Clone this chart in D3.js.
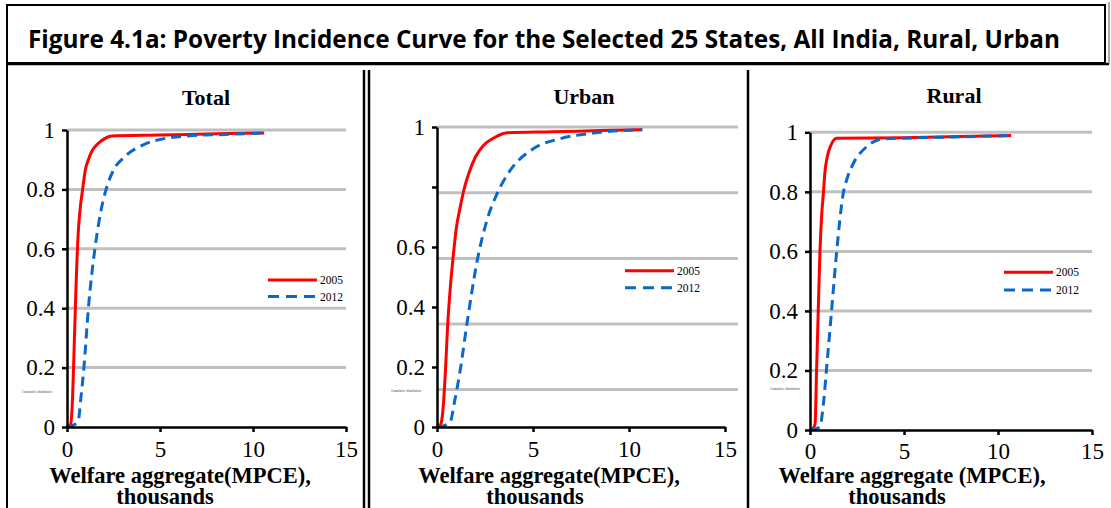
<!DOCTYPE html>
<html>
<head>
<meta charset="utf-8">
<script src="https://cdn.jsdelivr.net/npm/d3@7"></script>
<style>
  body { margin: 0; background: #fff; }
  svg { display: block; }
</style>
</head>
<body>
<script>
// values (x = MPCE in thousands, y = cumulative share)
var years = ["2005", "2012"];
var xTicks = [0, 5, 10, 15];
var yTicks = [0, 0.2, 0.4, 0.6, 0.8, 1];
var yLabelsUrban = [0, 0.2, 0.4, 0.6, 1];
var gridStd = [0.2, 0.4, 0.6, 0.8, 1];
var gridUrban = [0.125, 0.343, 0.562, 0.781, 1];

var total2005 = [[0,0],[0.2,0.01],[0.3,0.1],[0.4,0.3],[0.5,0.5],[0.6,0.65],[0.7,0.73],[0.84,0.8],[1.0,0.87],[1.15,0.9],[1.35,0.93],[1.6,0.95],[2.0,0.97],[2.4,0.98],[5,0.983],[8,0.987],[10.6,0.99]];
var total2012 = [[0,0],[0.3,0.005],[0.6,0.02],[0.75,0.1],[0.91,0.2],[1.15,0.4],[1.5,0.6],[1.8,0.72],[2.1,0.8],[2.5,0.865],[3.1,0.91],[4.1,0.95],[5.3,0.972],[6.5,0.98],[8.5,0.985],[10.6,0.99]];
var urban2005 = [[0,0],[0.2,0.01],[0.3,0.05],[0.45,0.2],[0.55,0.333],[0.7,0.47],[0.83,0.56],[1.0,0.66],[1.21,0.733],[1.4,0.79],[1.65,0.844],[2.0,0.9],[2.43,0.939],[3.0,0.965],[3.65,0.981],[6,0.984],[8.5,0.988],[10.7,0.991]];
var urban2012 = [[0,0],[0.3,0.003],[0.69,0.017],[0.9,0.08],[1.21,0.19],[1.56,0.344],[2.08,0.55],[2.6,0.689],[3.13,0.778],[3.82,0.856],[5.03,0.928],[6.42,0.961],[8.16,0.98],[10.68,0.991]];
var rural2005 = [[0,0],[0.15,0.005],[0.27,0.02],[0.35,0.2],[0.44,0.403],[0.53,0.6],[0.62,0.72],[0.71,0.795],[0.8,0.87],[0.92,0.918],[1.1,0.955],[1.42,0.98],[5,0.982],[8,0.986],[10.7,0.989]];
var rural2012 = [[0,0],[0.3,0.004],[0.53,0.011],[0.7,0.08],[0.89,0.213],[1.15,0.403],[1.42,0.6],[1.77,0.795],[2.0,0.85],[2.31,0.896],[3.02,0.952],[3.9,0.978],[5.5,0.981],[8,0.985],[10.7,0.989]];

var W = 1111, H = 508;
var serif = "'Liberation Serif','Times New Roman',serif";

var svg = d3.select("body").append("svg")
    .attr("width", W)
    .attr("height", H);

// frame
svg.append("rect").attr("x", 7).attr("y", 5).attr("width", 1098).attr("height", 58)
    .attr("fill", "none").attr("stroke", "#000").attr("stroke-width", 2);
svg.append("line").attr("x1", 7).attr("x2", 1109).attr("y1", 64).attr("y2", 64)
    .attr("stroke", "#000").attr("stroke-width", 2.5);
svg.append("line").attr("x1", 7).attr("x2", 7).attr("y1", 5).attr("y2", H)
    .attr("stroke", "#000").attr("stroke-width", 2);
svg.append("line").attr("x1", 1109).attr("x2", 1109).attr("y1", 2).attr("y2", 64)
    .attr("stroke", "#555").attr("stroke-width", 1);
[364, 369, 748].forEach(function(x) {
    svg.append("line").attr("x1", x).attr("x2", x).attr("y1", 70).attr("y2", H)
        .attr("stroke", "#000").attr("stroke-width", 2.5);
});

svg.append("text")
    .attr("x", 28).attr("y", 48)
    .attr("textLength", 1032).attr("lengthAdjust", "spacingAndGlyphs")
    .style("font-family", "'Open Sans',Arial,sans-serif")
    .style("font-weight", "bold").style("font-size", "25px")
    .text("Figure 4.1a: Poverty Incidence Curve for the Selected 25 States, All India, Rural, Urban");

function drawPanel(p) {
    var x = d3.scaleLinear().domain([0, 15]).range([p.x0, p.x15]);
    var y = d3.scaleLinear().domain([0, 1]).range([p.y0, p.y1]);
    var g = svg.append("g");

    // grid
    g.selectAll("line.grid").data(p.grid).enter().append("line")
        .attr("class", "grid")
        .attr("x1", p.x0).attr("x2", p.gridEnd)
        .attr("y1", function(d) { return y(d); })
        .attr("y2", function(d) { return y(d); })
        .attr("stroke", "#c0c0c0").attr("stroke-width", 3);

    var line = d3.line()
        .x(function(d) { return x(d[0]); })
        .y(function(d) { return y(d[1]); })
        .curve(d3.curveMonotoneX);

    g.append("path").datum(p.s2005).attr("d", line)
        .attr("fill", "none").attr("stroke", "#ff0000").attr("stroke-width", 3);
    g.append("path").datum(p.s2012).attr("d", line)
        .attr("fill", "none").attr("stroke", "#0a68cc").attr("stroke-width", 3)
        .attr("stroke-dasharray", "10,6");

    var xAxis = d3.axisBottom(x).tickValues(xTicks).tickSize(5).tickSizeOuter(0).tickPadding(p.xPad);
    var yAxis = d3.axisLeft(y).tickValues(yTicks).tickSize(5).tickSizeOuter(0).tickPadding(7)
        .tickFormat(function(d) { return p.yLabels.indexOf(d) >= 0 ? d3.format("~g")(d) : ""; });

    var gx = g.append("g").attr("transform", "translate(0," + p.y0 + ")").call(xAxis);
    var gy = g.append("g").attr("transform", "translate(" + p.x0 + ",0)").call(yAxis);
    [gx, gy].forEach(function(a) {
        a.select(".domain").attr("stroke", "#000").attr("stroke-width", 2.5);
        a.selectAll(".tick line").attr("stroke", "#000").attr("stroke-width", 2.5);
        a.selectAll("text").attr("fill", "#000")
            .style("font-family", serif).style("font-size", "23px");
    });

    g.append("text").attr("x", p.titleX).attr("y", p.titleY)
        .attr("text-anchor", "middle")
        .style("font-family", serif).style("font-weight", "bold").style("font-size", "22px")
        .text(p.title);

    // axis title, two lines in one text
    var at = g.append("text")
        .attr("text-anchor", "middle")
        .style("font-family", serif).style("font-weight", "bold").style("font-size", "22.5px");
    at.append("tspan").attr("x", p.ax1).attr("y", 483).text(p.axisText);
    at.append("tspan").attr("x", p.ax2).attr("y", 504).text("thousands");

    // tiny y-axis caption
    g.append("text").attr("x", p.capX).attr("y", p.capY)
        .attr("textLength", 30).attr("lengthAdjust", "spacingAndGlyphs")
        .style("font-family", serif).style("font-size", "3px").attr("fill", "#444")
        .text("Cumulative distribution");

    // legend
    years.forEach(function(yr, i) {
        var ly = p.legY[i];
        g.append("line").attr("x1", p.legX).attr("x2", p.legX + 49)
            .attr("y1", ly).attr("y2", ly)
            .attr("stroke", i == 0 ? "#ff0000" : "#0a68cc").attr("stroke-width", 3)
            .attr("stroke-dasharray", i == 0 ? null : "11,7");
        g.append("text").attr("x", p.legX + 52).attr("y", ly).attr("dy", "0.35em")
            .style("font-family", serif).style("font-size", "11.5px")
            .text(yr);
    });
}

drawPanel({
    title: "Total", titleX: 206, titleY: 105,
    x0: 67, x15: 346, y0: 427, y1: 130, gridEnd: 346, grid: gridStd, yLabels: yTicks, xPad: 9,
    s2005: total2005, s2012: total2012,
    legX: 268, legY: [280, 296.5],
    axisText: "Welfare aggregate(MPCE),", ax1: 180, ax2: 165,
    capX: 22, capY: 393
});
drawPanel({
    title: "Urban", titleX: 584, titleY: 104,
    x0: 437, x15: 725, y0: 427, y1: 127, gridEnd: 738, grid: gridUrban, yLabels: yLabelsUrban, xPad: 9,
    s2005: urban2005, s2012: urban2012,
    legX: 625, legY: [270.7, 287.7],
    axisText: "Welfare aggregate(MPCE),", ax1: 549, ax2: 535,
    capX: 391, capY: 392
});
drawPanel({
    title: "Rural", titleX: 954, titleY: 103,
    x0: 810, x15: 1092, y0: 430, y1: 132.3, gridEnd: 1092, grid: gridStd, yLabels: yTicks, xPad: 8,
    s2005: rural2005, s2012: rural2012,
    legX: 1004, legY: [272.3, 290],
    axisText: "Welfare aggregate (MPCE),", ax1: 912, ax2: 897,
    capX: 770, capY: 390
});
</script>
</body>
</html>
